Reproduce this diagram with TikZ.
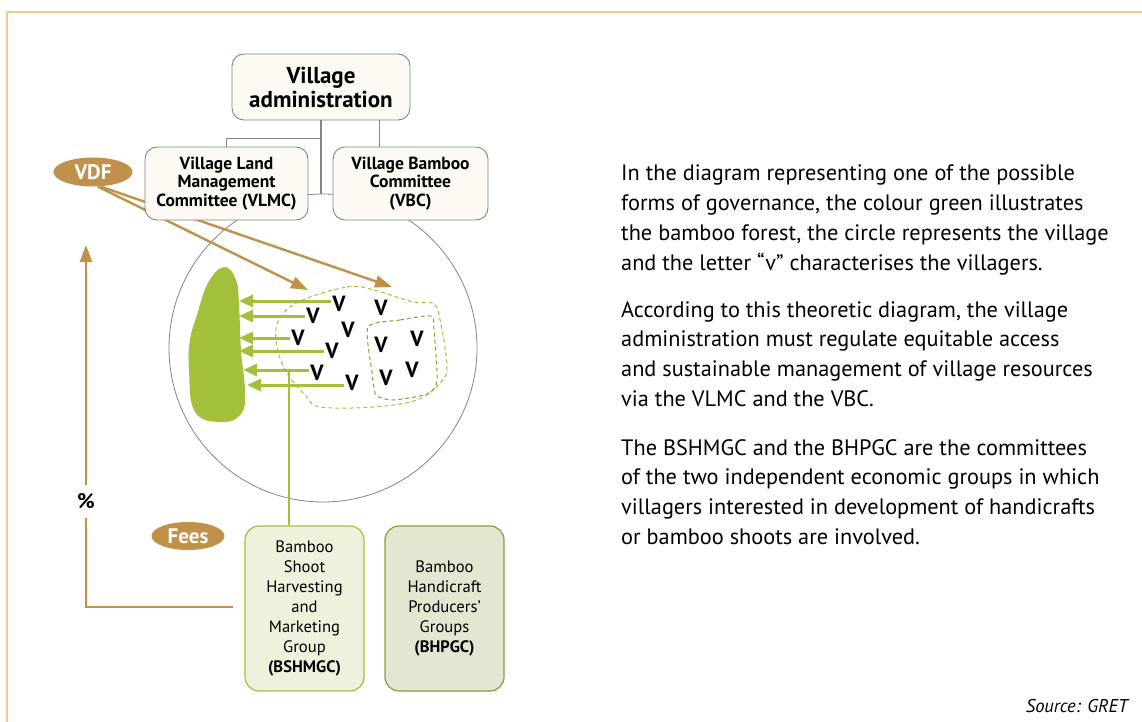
\documentclass[tikz,border=0pt]{standalone}
\usepackage{fontspec}
\setmainfont{PT Sans}
\usetikzlibrary{arrows.meta,shapes.geometric}
\definecolor{frameC}{HTML}{F0CB8C}
\definecolor{brownC}{HTML}{C0914A}
\definecolor{greenC}{HTML}{A3C03A}
\definecolor{oliveC}{HTML}{84A03A}
\definecolor{creamC}{HTML}{FCFAF3}
\definecolor{grayC}{HTML}{858585}
\definecolor{lgfill}{HTML}{EEF2DC}
\definecolor{ogfill}{HTML}{E4E6D1}
\begin{document}
\begin{tikzpicture}[x=1pt,y=-1pt,
  govbox/.style={draw=grayC, fill=creamC, line width=0.9pt, rounded corners=12pt, align=center, inner sep=2pt},
  oval/.style={ellipse, fill=brownC, text=white, font=\bfseries\fontsize{21}{23}\selectfont, inner sep=0pt},
  conn/.style={draw=grayC, line width=0.9pt},
  brownarrow/.style={draw=brownC, line width=2.4pt, -{Triangle[length=17pt,width=12pt]}},
  greenarrow/.style={draw=greenC, line width=3pt, -{Triangle[length=14pt,width=12pt]}},
  vil/.style={font=\bfseries\fontsize{22}{24}\selectfont, inner sep=1pt},
  para/.style={anchor=north west, align=left, inner sep=0pt, font=\fontsize{22.3}{29.8}\selectfont},
  grpbox/.style={rounded corners=14pt, line width=1.2pt, minimum width=119pt, minimum height=165pt, align=center, font=\fontsize{16.6}{20}\selectfont}
]
\useasboundingbox (0,0) rectangle (1142,722);
\fill[white] (0,0) rectangle (1142,722);
\draw[frameC, line width=1.6pt] (7,722) -- (7,12) -- (1142,12);

% village circle
\node[circle, draw=grayC, line width=0.8pt, minimum size=308pt, inner sep=0pt] (vil) at (323,348) {};

% bamboo forest blob
\fill[greenC] plot[smooth cycle, tension=0.7] coordinates {(224,267) (236,280) (239,305) (241,350) (245,392) (241,414) (222,422) (195,412) (189,370) (190,340) (197,315) (208,283)};

% dashed areas
\draw[greenC, line width=1pt, dash pattern=on 4pt off 3pt] plot[smooth cycle, tension=0.6] coordinates {(298,302) (347,287) (374,290) (413,302) (434,304) (441,325) (447,367) (440,383) (417,400) (373,407) (320,407) (306,396) (287,373) (277,347) (278,322)};
\draw[oliveC, line width=1pt, dash pattern=on 4pt off 3pt] plot[smooth cycle, tension=0.4] coordinates {(368,327) (400,320) (431,316) (434,330) (437,381) (427,394) (393,400) (376,395) (372,372)};

% villagers
\node[vil] (v1) at (339,304) {V};
\node[vil] (v2) at (381,308) {V};
\node[vil] (v3) at (313,316) {V};
\node[vil] (v4) at (348,330) {V};
\node[vil] (v5) at (298,338) {V};
\node[vil] (v6) at (332,351) {V};
\node[vil] (v7) at (317,373) {V};
\node[vil] (v8) at (352,383) {V};
\node[vil] (v9) at (381,345) {V};
\node[vil] (v10) at (417,339) {V};
\node[vil] (v11) at (386,378) {V};
\node[vil] (v12) at (412,370) {V};

% harvest arrows
\coordinate (f1) at (239,301);
\coordinate (f2) at (239,316);
\coordinate (f3) at (239,338);
\coordinate (f4) at (239,351);
\coordinate (f5) at (243,370);
\coordinate (f6) at (247,385);
\draw[greenarrow] (v1.west |- f1) -- (f1);
\draw[greenarrow] (v3.west |- f2) -- (f2);
\draw[greenarrow] (v5.west |- f3) -- (f3);
\draw[greenarrow] (v6.west |- f4) -- (f4);
\draw[greenarrow] (v7.west |- f5) -- (f5);
\draw[greenarrow] (v8.west |- f6) -- (f6);

% VDF and brown arrows
\node[oval, minimum width=79pt, minimum height=29pt] (vdf) at (93,172) {VDF};
\coordinate (t1) at (308,290);
\coordinate (t2) at (392,287);
\draw[brownarrow] ([xshift=5pt]vdf.south) -- (t1);
\draw[brownarrow] ([xshift=8pt]vdf.south) -- (t2);

% governance boxes
\node[govbox, minimum width=178pt, minimum height=66pt, font=\bfseries\fontsize{23}{24}\selectfont] (adm) at (321,87) {Village\\administration};
\node[govbox, minimum width=163pt, minimum height=73pt, font=\bfseries\fontsize{17.5}{18.5}\selectfont] (vlmc) at (226.5,183.5) {Village Land\\Management\\Committee (VLMC)};
\node[govbox, minimum width=155pt, minimum height=73pt, font=\bfseries\fontsize{17.5}{18.5}\selectfont] (vbc) at (410.5,183.5) {Village Bamboo\\Committee\\(VBC)};
\coordinate (j) at (321,138);
\draw[conn, line width=1.4pt] (adm.south) -- (adm.south |- vil.north);
\draw[conn] (adm.south |- j) -| (vlmc.north);
\draw[conn] ([xshift=58pt]adm.south) -- ([xshift=58pt]adm.south |- vbc.north);

% groups
\node[grpbox, draw=greenC, fill=lgfill] (bsh) at (304.5,608.5) {Bamboo\\Shoot\\Harvesting\\and\\Marketing\\Group\\\textbf{(BSHMGC)}};
\node[grpbox, draw=oliveC, fill=ogfill] (bhp) at (444.5,608.5) {Bamboo\\Handicraft\\Producers’\\Groups\\\textbf{(BHPGC)}};
\coordinate (gj) at (289,372);
\draw[draw=greenC, line width=2.6pt] (gj |- bsh.north) -- (gj);

% fees and percentage
\node[oval, minimum width=73pt, minimum height=28pt] (fees) at (188,536) {Fees};
\coordinate (ua) at (86,245);
\coordinate (ub) at (233,607);
\draw[draw=brownC, line width=2.4pt, -{Triangle[length=17pt,width=12pt]}] (ub) -| (ua);
\node[fill=white, inner sep=0pt, minimum height=33pt, font=\bfseries\fontsize{21}{22}\selectfont] (pct) at (86,501) {\%};

% text
\node[para] (p1) at (621,165) {In the diagram representing one of the possible\\forms of governance, the colour green illustrates\\the bamboo forest, the circle represents the village\\and the letter “v” characterises the villagers.};
\node[para] (p2) at (621,301) {According to this theoretic diagram, the village\\administration must regulate equitable access\\and sustainable management of village resources\\via the VLMC and the VBC.};
\node[para] (p3) at (621,439) {The BSHMGC and the BHPGC are the committees\\of the two independent economic groups in which\\villagers interested in development of handicrafts\\or bamboo shoots are involved.};
\node[anchor=base east, inner sep=0pt, font=\itshape\fontsize{18.5}{21}\selectfont] (src) at (1128,712) {Source: GRET};
\end{tikzpicture}
\end{document}
